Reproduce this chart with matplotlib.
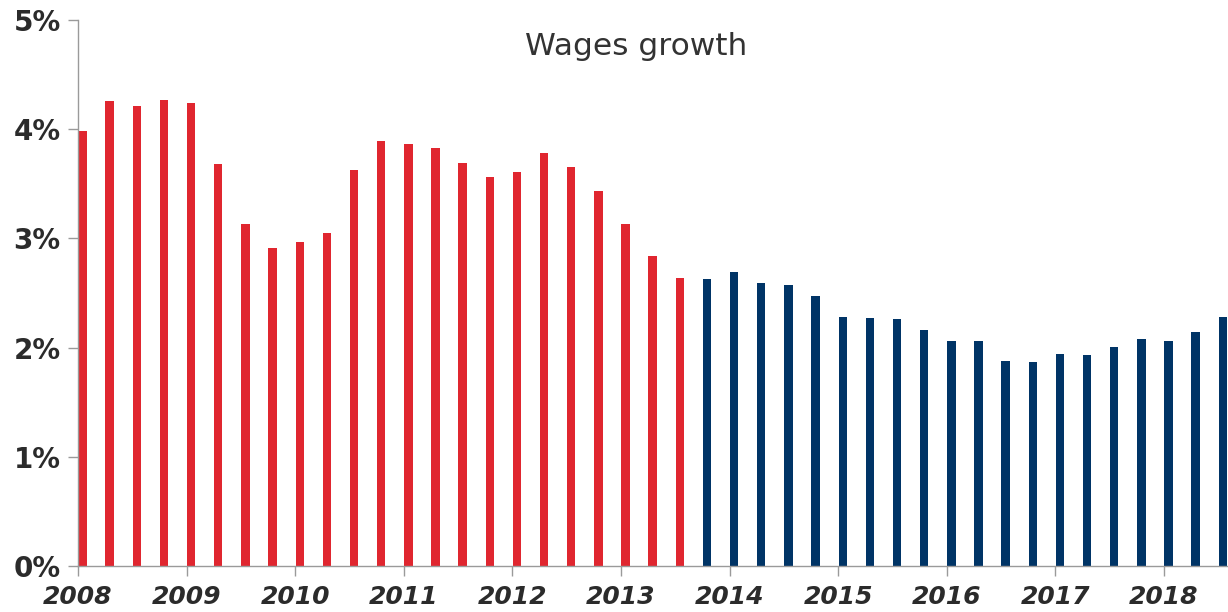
import matplotlib
matplotlib.use("Agg")
import matplotlib.pyplot as plt

# Quarterly wage growth (%), 2008 Q1 .. 2018 Q3
years = list(range(2008, 2019))
red_values = [3.98, 4.26, 4.21, 4.27, 4.24, 3.68, 3.13, 2.91, 2.97, 3.05,
              3.63, 3.89, 3.86, 3.83, 3.69, 3.56, 3.61, 3.78, 3.65, 3.43,
              3.13, 2.84, 2.64]
blue_values = [2.63, 2.69, 2.59, 2.57, 2.47, 2.28, 2.27, 2.26, 2.16, 2.06,
               2.06, 1.88, 1.87, 1.94, 1.93, 2.01, 2.08, 2.06, 2.14, 2.28]
title = "Wages growth"
y_ticks = [0, 1, 2, 3, 4, 5]
y_labels = ["0%", "1%", "2%", "3%", "4%", "5%"]

RED = "#E0262F"
NAVY = "#003466"

fig = plt.figure(figsize=(12.28, 6.12), dpi=100)
ax = fig.add_axes([78 / 1228, 46 / 612, 1 - 78 / 1228, (566 - 20) / 612])

n_red = len(red_values)
all_vals = red_values + blue_values
xs = [2008 + (i * 3 + 0.5) / 12 for i in range(len(all_vals))]
colors = [RED] * n_red + [NAVY] * len(blue_values)
ax.bar(xs, all_vals, width=0.077, color=colors, linewidth=0)

ax.set_xlim(2008, 2008 + (1228 - 78) / 108.6)
ax.set_ylim(0, 5)

for s in ["top", "right"]:
    ax.spines[s].set_visible(False)
for s in ["left", "bottom"]:
    ax.spines[s].set_color("#9a9a9a")
    ax.spines[s].set_linewidth(1.0)

ax.set_yticks(y_ticks)
ax.set_yticklabels(y_labels)
ax.set_xticks(years)
ax.set_xticklabels([str(y) for y in years])
ax.tick_params(axis="both", color="#9a9a9a", length=7.5, width=1.0)
ax.tick_params(axis="y", pad=5)
ax.tick_params(axis="x", pad=6)
for lab in ax.get_yticklabels():
    lab.set_fontfamily("DejaVu Sans")
    lab.set_fontweight("heavy")
    lab.set_fontsize(20)
    lab.set_color("#2b2b2b")
for lab in ax.get_xticklabels():
    lab.set_fontfamily("DejaVu Sans")
    lab.set_fontweight("heavy")
    lab.set_fontstyle("italic")
    lab.set_fontsize(18)
    lab.set_color("#2b2b2b")

fig.text(636 / 1228, 1 - 55 / 612, title, ha="center", va="baseline",
         fontsize=22.5, color="#333333", family="DejaVu Sans")

fig.savefig("out.png", dpi=100)
